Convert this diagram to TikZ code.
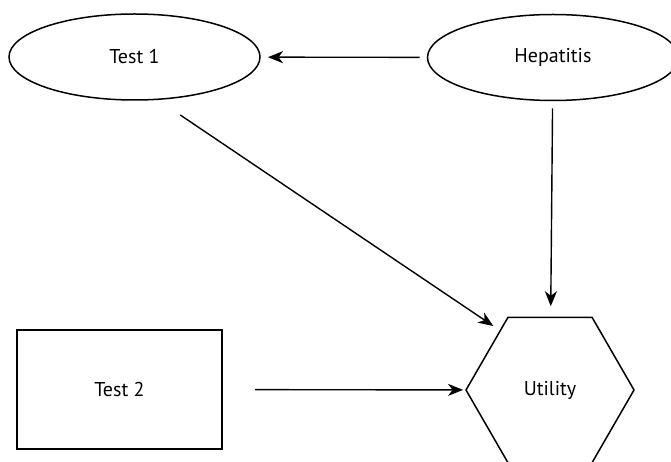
\documentclass[tikz,border=0pt]{standalone}
\usepackage{fontspec}
\setmainfont{PT Sans}
\usetikzlibrary{shapes.geometric,arrows.meta}
\begin{document}
\begin{tikzpicture}[x=1pt,y=-1pt,
  every node/.style={font=\fontsize{20}{24}\selectfont, inner sep=0pt, outer sep=0pt},
  shp/.style={draw, line width=1.5pt},
  ell/.style={shp, ellipse, minimum width=251pt, minimum height=86pt},
  conn/.style={line width=1.4pt, -{Stealth[length=15pt,width=12pt,inset=4.5pt]}}]
\useasboundingbox (0,0) rectangle (671,462);
\clip (0,0) rectangle (671,462);
\node[ell] (test1) at (134.5,57) {Test 1};
\node[ell] (hep) at (553,57.5) {Hepatitis};
\node[shp, minimum width=205pt, minimum height=119pt] (test2) at (119.5,389.5) {Test 2};
\node[shp, regular polygon, regular polygon sides=6, minimum size=168pt] (util) at (550,390) {Utility};
\draw[conn, shorten <=8pt, shorten >=8pt] (hep) -- (test1);
\draw[conn, shorten <=8pt, shorten >=11pt] (hep) -- (util);
\draw[conn, shorten <=28pt, shorten >=8.4pt] (test1.-62.2) -- (util.130.6);
\draw[conn, shorten <=33pt, shorten >=3pt] (test2) -- (util);
\end{tikzpicture}
\end{document}
